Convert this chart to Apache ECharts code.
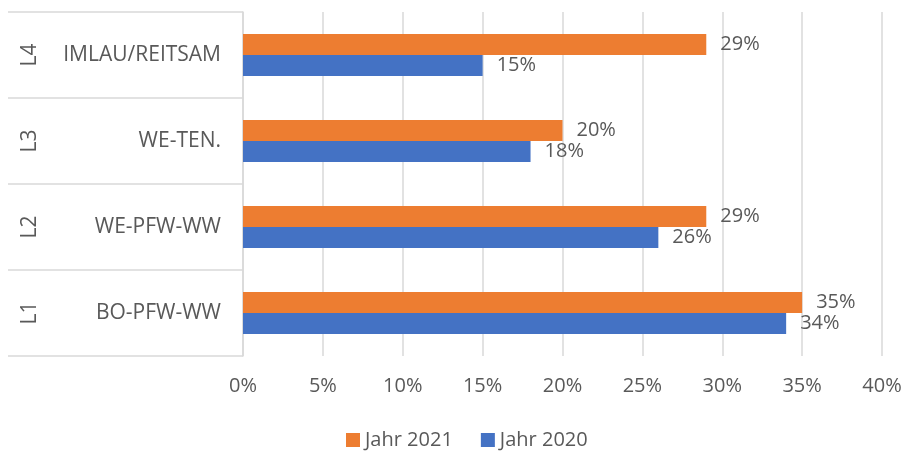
<!DOCTYPE html>
<html><head><meta charset="utf-8">
<script src="https://cdn.jsdelivr.net/npm/echarts@6/dist/echarts.min.js"></script>
<style>html,body{margin:0;padding:0;background:#fff}#c{width:906px;height:451px}</style>
</head><body><div id="c"></div>
<script>
const categories = ['BO-PFW-WW', 'WE-PFW-WW', 'WE-TEN.', 'IMLAU/REITSAM'];
const groupLabels = ['L1', 'L2', 'L3', 'L4'];
const values2021 = [35, 29, 20, 29];
const values2020 = [34, 26, 18, 15];
const seriesNames = ['Jahr 2021', 'Jahr 2020'];
const xTicks = [0, 5, 10, 15, 20, 25, 30, 35, 40];

const FONT = '"Open Sans", sans-serif';
const GRAY = '#595959';
const LINE = '#d9d9d9';
const FS = 20;
const chart = echarts.init(document.getElementById('c'));
chart.setOption({
  animation: false,
  textStyle: { fontFamily: FONT },
  grid: { left: 243, right: 24, top: 12, bottom: 95 },
  legend: {
    data: seriesNames,
    top: 430, left: 346, padding: 0,
    icon: 'rect', itemWidth: 14, itemHeight: 14, itemGap: 28,
    textStyle: { color: GRAY, fontSize: FS, fontFamily: FONT }
  },
  xAxis: {
    type: 'value', min: xTicks[0], max: xTicks[xTicks.length - 1], interval: 5,
    axisLine: { show: false }, axisTick: { show: false },
    splitLine: { lineStyle: { color: LINE, width: 1.5 } },
    axisLabel: { color: GRAY, fontSize: FS, margin: 20, formatter: v => v + '%' }
  },
  yAxis: [{
    type: 'category', data: categories,
    axisLine: { lineStyle: { color: LINE, width: 1.5 } },
    axisTick: { show: true, length: 235, lineStyle: { color: LINE, width: 1.5 } },
    axisLabel: { color: GRAY, fontSize: 21, margin: 22 }
  }, {
    type: 'category', data: groupLabels, position: 'left', offset: 200,
    axisLine: { show: false }, axisTick: { show: false },
    axisLabel: { color: GRAY, fontSize: 21, rotate: 90, margin: 2 }
  }],
  series: [{
    name: seriesNames[0], type: 'bar', data: values2021, barWidth: 21, barGap: '0%',
    itemStyle: { color: '#ED7D31' },
    label: { show: true, position: 'right', distance: 14, color: GRAY, fontSize: FS, formatter: p => p.value + '%' }
  }, {
    name: seriesNames[1], type: 'bar', data: values2020, barWidth: 21, barGap: '0%',
    itemStyle: { color: '#4472C4' },
    label: { show: true, position: 'right', distance: 14, color: GRAY, fontSize: FS, formatter: p => p.value + '%' }
  }]
});
</script></body></html>
